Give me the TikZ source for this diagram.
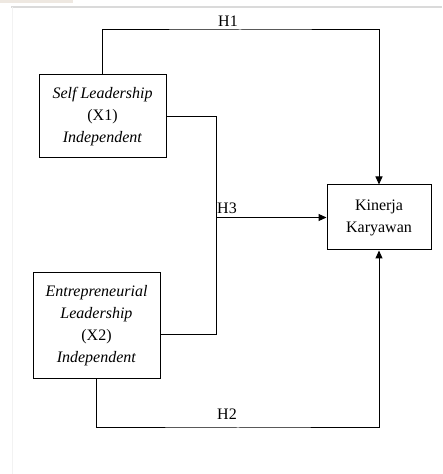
\documentclass[tikz,border=0pt]{standalone}
\usepackage{fontspec}
\setmainfont{Liberation Serif}
\usepackage{tikz}
\usetikzlibrary{arrows.meta, positioning}
\usepackage{xcolor}
\definecolor{framegray}{RGB}{218,218,218}
\definecolor{edgegray}{RGB}{242,242,242}
\definecolor{tabbeige}{RGB}{238,232,225}
\begin{document}
\begin{tikzpicture}[
        line join=miter,
        varbox/.style={shape=rectangle, draw=black, line width=1pt, align=center, inner sep=0pt, font=\fontsize{16}{22}\selectfont},
        pathline/.style={draw=black, line width=1pt},
        patharrow/.style={pathline, -{Triangle[length=8pt, width=7pt]}},
        hyplabel/.style={font=\fontsize{16}{20}\selectfont}
    ]
        % Frame
        \useasboundingbox (0pt, 0pt) rectangle (442pt, 474pt);
        \fill[tabbeige] (0pt, 471pt) rectangle (73pt, 474pt);
        \draw[framegray, line width=1.5pt] (11pt, 467pt) -- (442pt, 467pt);
        \draw[edgegray, line width=1pt] (12pt, 467pt) -- (12pt, 0pt);
        % Variables
        \node[varbox, minimum width=127pt, minimum height=83pt] (x1) at (102.5pt, 357.5pt) {\textit{Self Leadership}\\(X1)\\\textit{Independent}};
        \node[varbox, minimum width=127pt, minimum height=106pt] (x2) at (96.5pt, 148pt) {\textit{Entrepreneurial}\\\textit{Leadership}\\(X2)\\\textit{Independent}};
        \node[varbox, minimum width=104pt, minimum height=65pt] (y) at (379pt, 256.5pt) {Kinerja\\Karyawan};
        % Corner points
        \coordinate (h1) at (240pt, 444pt);
        \coordinate (h2) at (238pt, 46pt);
        \coordinate (jn) at (216pt, 139pt);
        % Paths
        \draw[patharrow] (x1.north) |- (h1) -| (y.north);
        \draw[patharrow] (x2.south) |- (h2) -| (y.south);
        \draw[pathline] (x1.east) -| (jn) -- (jn -| x2.east);
        \draw[patharrow] (jn |- y.west) -- (y.west);
        % Labels
        \node[hyplabel, above] (lh1) at (228pt, 444pt) {H1};
        \node[hyplabel, above] (lh2) at (227pt, 51pt) {H2};
        \node[hyplabel, above right, inner xsep=1pt] (lh3) at (jn |- y.west) {H3};
    \end{tikzpicture}
\end{document}
